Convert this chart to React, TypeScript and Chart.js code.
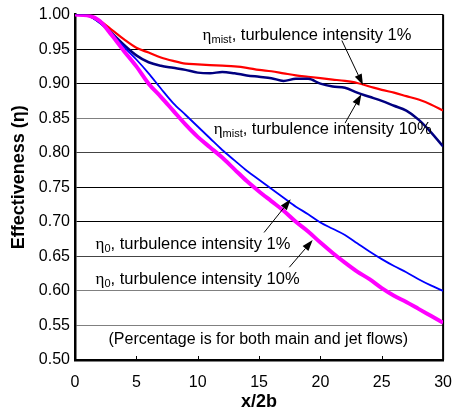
import React, { useEffect, useRef } from "react";
import { Chart, registerables } from "chart.js";

Chart.register(...registerables);

// ---- data ----
const xValues = [0,1,2,3,4,5,6,7,8,9,10,11,12,13,14,15,16,17,18,19,20,21,22,23,24,25,26,27,28,29,30];
const etaMistTI1 = [1.000,0.999,0.991,0.978,0.964,0.952,0.945,0.938,0.933,0.929,0.928,0.927,0.926,0.925,0.923,0.920,0.918,0.915,0.912,0.910,0.908,0.906,0.904,0.901,0.896,0.891,0.887,0.882,0.877,0.870,0.861];
const etaMistTI10 = [1.000,0.999,0.989,0.973,0.956,0.941,0.931,0.926,0.923,0.920,0.916,0.915,0.917,0.915,0.912,0.910,0.908,0.904,0.907,0.907,0.900,0.896,0.894,0.887,0.881,0.875,0.868,0.861,0.848,0.830,0.809];
const eta0TI1 = [1.000,0.999,0.988,0.972,0.953,0.935,0.915,0.893,0.872,0.855,0.838,0.821,0.804,0.789,0.774,0.761,0.748,0.735,0.722,0.711,0.699,0.690,0.681,0.669,0.657,0.646,0.636,0.627,0.617,0.608,0.600];
const eta0TI10 = [1.000,0.999,0.991,0.970,0.947,0.925,0.900,0.881,0.861,0.841,0.823,0.808,0.793,0.776,0.759,0.744,0.730,0.716,0.700,0.686,0.670,0.655,0.641,0.628,0.617,0.604,0.593,0.584,0.574,0.564,0.554];

const xTitle = "x/2b";
const yTitle = "Effectiveness (η)";

// annotation labels (data coordinates: left x, baseline y)
const labelX = [10.4, 11.3, 1.68, 1.68];
const labelY = [0.9633, 0.8266, 0.6607, 0.6094];
const labelSub = ["mist", "mist", "0", "0"];
const labelText = [", turbulence intensity 1%", ", turbulence intensity 10%", ", turbulence intensity 1%", ", turbulence intensity 10%"];
const noteText = "(Percentage is for both main and jet flows)";
const noteX = 2.73;
const noteY = 0.523;

// arrows (data coordinates): start -> tip
const arrowX1 = [21.75, 22.01, 15.41, 17.47];
const arrowY1 = [0.9625, 0.8429, 0.6846, 0.6343];
const arrowX2 = [23.47, 23.34, 17.58, 19.37];
const arrowY2 = [0.8981, 0.8846, 0.7327, 0.6736];

const SANS = '"Liberation Sans", Arial, sans-serif';
const SERIF = '"Liberation Serif", "Times New Roman", serif';

const toPts = (ys: number[]) => ys.map((y, i) => ({ x: xValues[i], y }));

const annotPlugin = {
  id: "annot",
  beforeDatasetsDraw(chart: any) {
    const { ctx, chartArea } = chart;
    ctx.save();
    ctx.strokeStyle = "#000";
    ctx.lineWidth = 2;
    ctx.beginPath();
    ctx.moveTo(chartArea.right, chartArea.top);
    ctx.lineTo(chartArea.right, chartArea.bottom);
    ctx.stroke();
    // inward tick marks on x axis
    const xs = chart.scales.x;
    ctx.lineWidth = 1;
    for (let v = 5; v < 30; v += 5) {
      const px = Math.round(xs.getPixelForValue(v)) + 0.5;
      ctx.beginPath();
      ctx.moveTo(px, chartArea.bottom);
      ctx.lineTo(px, chartArea.bottom - 4);
      ctx.stroke();
    }
    ctx.restore();
  },
  afterDatasetsDraw(chart: any) {
    const { ctx, chartArea } = chart;
    const xs = chart.scales.x;
    const ys = chart.scales.y;
    ctx.save();
    ctx.fillStyle = "#000";
    ctx.textBaseline = "alphabetic";
    ctx.textAlign = "left";
    for (let i = 0; i < labelX.length; i++) {
      let px = xs.getPixelForValue(labelX[i]);
      const py = ys.getPixelForValue(labelY[i]);
      ctx.font = `17px ${SERIF}`;
      ctx.fillText("η", px, py);
      px += ctx.measureText("η").width;
      ctx.font = `11px ${SANS}`;
      ctx.fillText(labelSub[i], px, py + 3);
      px += ctx.measureText(labelSub[i]).width;
      ctx.font = `16.5px ${SANS}`;
      ctx.fillText(labelText[i], px, py);
    }
    ctx.font = `16px ${SANS}`;
    ctx.fillText(noteText, xs.getPixelForValue(noteX), ys.getPixelForValue(noteY));

    // arrows
    ctx.strokeStyle = "#000";
    ctx.lineWidth = 1;
    for (let i = 0; i < arrowX1.length; i++) {
      const x1 = xs.getPixelForValue(arrowX1[i]);
      const y1 = ys.getPixelForValue(arrowY1[i]);
      const x2 = xs.getPixelForValue(arrowX2[i]);
      const y2 = ys.getPixelForValue(arrowY2[i]);
      const a = Math.atan2(y2 - y1, x2 - x1);
      const hl = 11, hw = 3.8;
      const bx = x2 - hl * Math.cos(a);
      const by = y2 - hl * Math.sin(a);
      ctx.beginPath();
      ctx.moveTo(x1, y1);
      ctx.lineTo(bx, by);
      ctx.stroke();
      ctx.beginPath();
      ctx.moveTo(x2, y2);
      ctx.lineTo(bx + hw * Math.sin(a), by - hw * Math.cos(a));
      ctx.lineTo(bx - hw * Math.sin(a), by + hw * Math.cos(a));
      ctx.closePath();
      ctx.fill();
    }

    // y axis title
    ctx.font = `bold 18px ${SANS}`;
    ctx.textAlign = "center";
    ctx.textBaseline = "middle";
    ctx.translate(19, (chartArea.top + chartArea.bottom) / 2 - 10);
    ctx.rotate(-Math.PI / 2);
    ctx.fillText(yTitle, 0, 0);
    ctx.restore();
  },
};

export default function App() {
  const ref = useRef<HTMLCanvasElement>(null);
  useEffect(() => {
    if (!ref.current) return;
    const chart = new Chart(ref.current, {
      type: "line",
      data: {
        datasets: [
          { data: toPts(etaMistTI1), borderColor: "#FF0000", borderWidth: 2.2, order: 3 },
          { data: toPts(etaMistTI10), borderColor: "#000080", borderWidth: 2.5, order: 2 },
          { data: toPts(eta0TI1), borderColor: "#0000FF", borderWidth: 1.8, order: 1 },
          { data: toPts(eta0TI10), borderColor: "#FF00FF", borderWidth: 4, order: 0 },
        ].map((d) => ({ ...d, pointRadius: 0, fill: false, tension: 0.3, cubicInterpolationMode: "monotone" as const })),
      },
      options: {
        responsive: false,
        animation: false,
        events: [],
        layout: { padding: { top: 12, right: 10, left: 0, bottom: 0 } },
        plugins: { legend: { display: false }, tooltip: { enabled: false } },
        scales: {
          x: {
            type: "linear",
            min: 0,
            max: 30,
            ticks: { stepSize: 5, color: "#000", font: { family: SANS, size: 16 }, padding: 13, maxRotation: 0 },
            grid: { display: false, drawTicks: false },
            border: { display: true, color: "#000", width: 2.5 },
            title: { display: true, text: xTitle, color: "#000", font: { family: SANS, size: 18, weight: "bold" }, padding: { top: 0, bottom: -2 } },
            afterFit: (s: any) => { s.height = 51; },
          },
          y: {
            type: "linear",
            min: 0.5,
            max: 1.0,
            ticks: { stepSize: 0.05, color: "#000", font: { family: SANS, size: 16 }, padding: 5, callback: (v: any) => Number(v).toFixed(2) },
            grid: {
              drawTicks: false,
              lineWidth: 1,
              color: (c: any) => {
                const v = Math.round(c.tick.value * 100);
                if (v === 85 || v === 60 || v === 55) return "#808080";
                if (v === 80 || v === 65) return "#444";
                return "#000";
              },
            },
            border: { display: true, color: "#000", width: 2.5 },
            afterFit: (s: any) => { s.width = 75; },
          },
        },
      },
      plugins: [annotPlugin],
    } as any);
    return () => chart.destroy();
  }, []);
  return (
    <div style={{ position: "absolute", left: 0, top: 0, width: 465, height: 411, background: "#fff" }}>
      <canvas ref={ref} width={465} height={411} style={{ width: 465, height: 411, display: "block" }} />
    </div>
  );
}
